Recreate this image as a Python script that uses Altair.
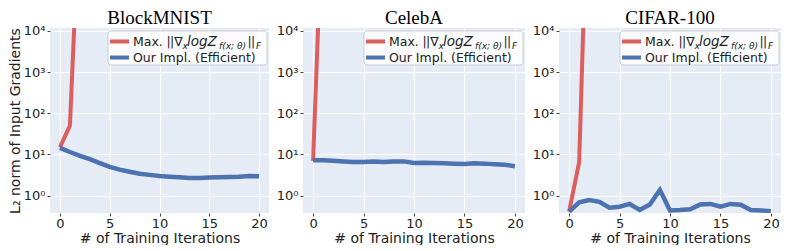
import altair as alt
import pandas as pd

# ---------------- data ----------------
titles = ["BlockMNIST", "CelebA", "CIFAR-100"]

iters = list(range(21))

blue_blockmnist = [14.5, 11.5, 9.3, 7.7, 6.2, 5.0, 4.3, 3.8, 3.4, 3.2, 3.0,
                   2.9, 2.8, 2.7, 2.7, 2.75, 2.8, 2.85, 2.9, 3.0, 2.95]
blue_celeba = [7.2, 7.2, 7.0, 6.8, 6.6, 6.6, 6.8, 6.6, 6.8, 6.8, 6.2,
               6.3, 6.2, 6.1, 6.0, 5.9, 6.1, 6.0, 5.8, 5.6, 5.2]
blue_cifar = [0.41, 0.69, 0.78, 0.71, 0.51, 0.54, 0.63, 0.45, 0.61, 1.38, 0.44,
              0.45, 0.47, 0.61, 0.63, 0.54, 0.63, 0.60, 0.45, 0.44, 0.42]

red_x_blockmnist = [0, 1, 2]
red_blockmnist = [15.0, 50.0, 1.6e7]
red_x_celeba = [0, 1]
red_celeba = [7.0, 2.5e7]
red_x_cifar = [0, 1, 2]
red_cifar = [0.41, 6.6, 8e8]

y_ticks = [1, 10, 100, 1000, 10000]
x_ticks = [0, 5, 10, 15, 20]

# ---------------- style ----------------
RED = "#dc5e5e"
BLUE = "#4c72b0"
BG = "#e6ecf6"
WIDTHS = [219, 222, 222]
H = 185
FONT = "DejaVu Sans"

blue_sets = [blue_blockmnist, blue_celeba, blue_cifar]
red_sets = [(red_x_blockmnist, red_blockmnist), (red_x_celeba, red_celeba),
            (red_x_cifar, red_cifar)]

sup_expr = ("datum.value == 1 ? '10⁰' : datum.value == 10 ? '10¹' : "
            "datum.value == 100 ? '10²' : datum.value == 1000 ? '10³' : '10⁴'")

one = pd.DataFrame({"a": [0]})


def legend_layers(w):
    d = w - 223  # legend anchored to the right edge of the axes

    def txt(s, x, y, size=12.5, style="normal", align="left"):
        return alt.Chart(one).mark_text(text=s, align=align, baseline="middle",
                                        font=FONT, fontSize=size, fontStyle=style,
                                        color="#222222").encode(
            x=alt.value(x + d), y=alt.value(y))

    box = alt.Chart(one).mark_rect(fill="white", fillOpacity=0.85, stroke="#cccccc",
                                   strokeWidth=1, cornerRadius=3).encode(
        x=alt.value(62 + d), x2=alt.value(221 + d), y=alt.value(3), y2=alt.value(37))
    r1 = alt.Chart(one).mark_rule(color=RED, strokeWidth=4).encode(
        x=alt.value(64 + d), x2=alt.value(83 + d), y=alt.value(13.5))
    r2 = alt.Chart(one).mark_rule(color=BLUE, strokeWidth=4).encode(
        x=alt.value(64 + d), x2=alt.value(83 + d), y=alt.value(29.5))

    parts = [
        txt("Max.", 87, 13.5),
        txt("|", 122.5, 13.5, align="center"),
        txt("|", 126, 13.5, align="center"),
        txt("∇", 128.3, 13.5),
        txt("x", 136.5, 18, 9, "italic"),
        txt("logZ", 141, 13.5, 13.5, "italic"),
        txt("f(x; θ)", 173, 18, 9, "italic"),
        txt("|", 203.5, 13.5, align="center"),
        txt("|", 207, 13.5, align="center"),
        txt("F", 210, 18, 9, "italic"),
        txt("Our Impl. (Efficient)", 87, 29.5),
    ]
    return [box, r1, r2] + parts


panels = []
for i, name in enumerate(titles):
    dblue = pd.DataFrame({"it": iters, "v": blue_sets[i]})
    rx, rv = red_sets[i]
    dred = pd.DataFrame({"it": rx, "v": rv})

    x_enc = alt.X("it:Q",
                  scale=alt.Scale(domain=[-1, 21], nice=False, zero=False),
                  axis=alt.Axis(values=x_ticks, title="# of Training Iterations",
                                format="d", labelFontSize=13, titleFontSize=14,
                                titleFontWeight="normal", labelFont=FONT, titleFont=FONT,
                                labelColor="#222222", titleColor="#222222",
                                tickSize=3, tickColor="#444444", labelPadding=1,
                                titlePadding=1, domain=False, grid=True,
                                gridColor="white", gridWidth=1))
    y_enc = alt.Y("v:Q",
                  scale=alt.Scale(type="log", domain=[0.38, 11750], nice=False),
                  axis=alt.Axis(values=y_ticks, labelExpr=sup_expr,
                                title="L₂ norm of Input Gradients" if i == 0 else None,
                                labelFontSize=13, titleFontSize=14,
                                titleFontWeight="normal", labelFont=FONT, titleFont=FONT,
                                labelColor="#222222", titleColor="#222222",
                                tickSize=3, tickColor="#444444", labelPadding=2,
                                titlePadding=1, domain=False, grid=True,
                                gridColor="white", gridWidth=1))

    red_line = alt.Chart(dred).mark_line(color=RED, strokeWidth=4, clip=True).encode(
        x=x_enc, y=y_enc)
    blue_line = alt.Chart(dblue).mark_line(color=BLUE, strokeWidth=4.5, clip=True).encode(
        x=x_enc, y=y_enc)

    layer = alt.layer(red_line, blue_line, *legend_layers(WIDTHS[i])).properties(
        width=WIDTHS[i], height=H,
        view=alt.ViewBackground(fill=BG, strokeWidth=0),
        title=alt.TitleParams(name, font="Liberation Serif", fontSize=19,
                              fontWeight="normal", color="black", offset=-3))
    panels.append(layer)

chart = alt.hconcat(*panels, spacing=7).configure_view(
    fill=BG, strokeWidth=0).configure(padding=0)

chart.save("out.html", embed_options={"renderer": "svg", "actions": False})
